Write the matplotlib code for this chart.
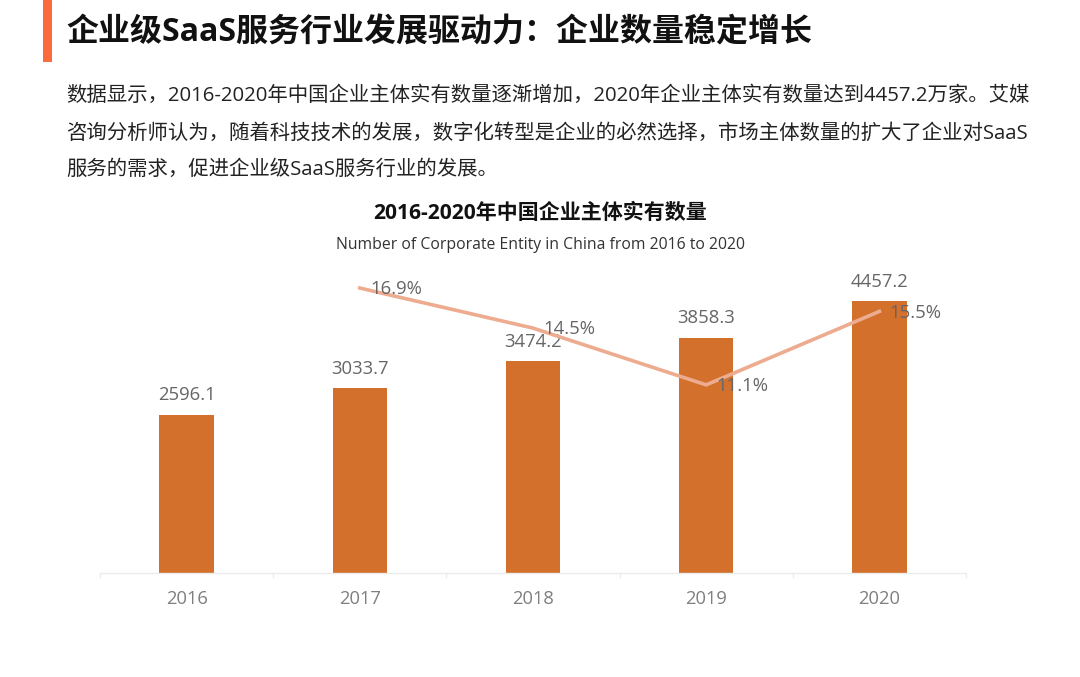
import matplotlib
matplotlib.use('Agg')
from matplotlib import pyplot as plt
from matplotlib.patches import Rectangle

plt.rcParams['font.family'] = ['Open Sans', 'Noto Sans CJK SC', 'DejaVu Sans']

years = ['2016', '2017', '2018', '2019', '2020']
entities = [2596.1, 3033.7, 3474.2, 3858.3, 4457.2]
growth_years = ['2017', '2018', '2019', '2020']
growth = [16.9, 14.5, 11.1, 15.5]

heading = '企业级SaaS服务行业发展驱动力：企业数量稳定增长'
body_lines = [
    '数据显示，2016-2020年中国企业主体实有数量逐渐增加，2020年企业主体实有数量达到4457.2万家。艾媒',
    '咨询分析师认为，随着科技技术的发展，数字化转型是企业的必然选择，市场主体数量的扩大了企业对SaaS',
    '服务的需求，促进企业级SaaS服务行业的发展。',
]
chart_title = '2016-2020年中国企业主体实有数量'
chart_subtitle = 'Number of Corporate Entity in China from 2016 to 2020'

W, H = 1080, 677
BAR_COLOR = '#D2702C'
LINE_COLOR = '#EDAB8F'
LABEL_COLOR = '#666666'
TICK_COLOR = '#7F7F7F'
AXIS_COLOR = '#EBEBEB'


def px_text(fig, x, y, s, **kw):
    # x, y in image pixels, y going down
    fig.text(x / W, 1 - y / H, s, **kw)


fig = plt.figure(figsize=(W / 100, H / 100), dpi=100)

fig.add_artist(Rectangle((43 / W, 1 - 62 / H), 9 / W, 62 / H,
                         transform=fig.transFigure, color='#FB6A3C', lw=0))

px_text(fig, 66, 33, heading, fontsize=23, fontweight='bold', color='#111111', va='center')
for y, line in zip([96, 134, 170], body_lines):
    px_text(fig, 66, y, line, fontsize=14.7, color='#222222', va='center')
px_text(fig, 540, 213, chart_title, fontsize=15.1, fontweight='bold', color='#111111',
        va='center', ha='center')
px_text(fig, 540, 245, chart_subtitle, fontsize=11.3, color='#333333', va='center', ha='center')

ax = fig.add_axes([100 / W, 1 - 573 / H, 866 / W, 308 / H])
ax.patch.set_alpha(0)
xs = list(range(len(years)))
bars = ax.bar(xs, entities, width=0.315, color=BAR_COLOR)
ax.set_xlim(-0.5, 4.5)
ax.set_ylim(0, 5049)
ax.set_yticks([])
for side in ['top', 'left', 'right']:
    ax.spines[side].set_visible(False)
ax.spines['bottom'].set_color(AXIS_COLOR)
ax.spines['bottom'].set_linewidth(1)

ax.set_xticks([i - 0.5 for i in range(len(years) + 1)])
ax.set_xticklabels([])
ax.set_xticks(xs, minor=True)
ax.set_xticklabels(years, minor=True, fontsize=13.2, color=TICK_COLOR)
ax.tick_params(axis='x', which='major', length=3.5, color=AXIS_COLOR, width=0.8)
ax.tick_params(axis='x', which='minor', length=0, pad=12)

for x, v in zip(xs, entities):
    ax.annotate(f'{v}', (x, v), xytext=(0, 7.5), textcoords='offset points',
                ha='center', va='bottom', fontsize=13.3, color=LABEL_COLOR)

ax2 = ax.twinx()
ax2.patch.set_alpha(0)
ax2.set_ylim(-0.17, 18.28)
ax2.set_yticks([])
for side in ax2.spines:
    ax2.spines[side].set_visible(False)
gx = [years.index(y) for y in growth_years]
ax2.plot(gx, growth, color=LINE_COLOR, lw=2.6, solid_joinstyle='miter')
for x, v in zip(gx, growth):
    ax2.annotate(f'{v}%', (x, v), xytext=(7.5, -1), textcoords='offset points',
                 ha='left', va='center', fontsize=13.3, color=LABEL_COLOR)

fig.savefig('out.png', dpi=100)
